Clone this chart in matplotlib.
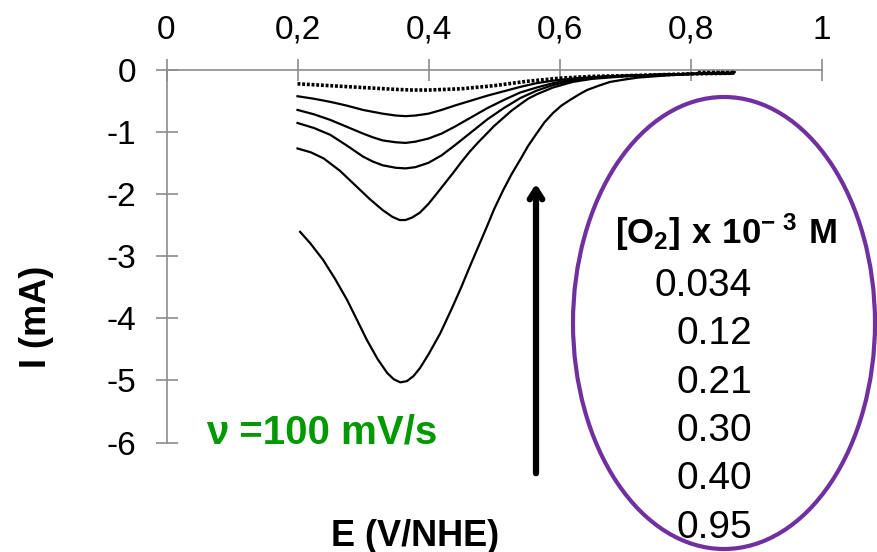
import matplotlib
matplotlib.use('Agg')
import matplotlib.pyplot as plt
from matplotlib.patches import Ellipse

plt.rcParams['font.family'] = ['Liberation Sans', 'DejaVu Sans']
plt.rcParams['axes.unicode_minus'] = False
plt.rcParams['mathtext.fontset'] = 'custom'
plt.rcParams['mathtext.rm'] = 'Liberation Sans'
plt.rcParams['mathtext.bf'] = 'Liberation Sans:bold'

# concentrations [O2] x 10^-3 M
conc_labels = ['0.034', '0.12', '0.21', '0.30', '0.40', '0.95']

# potential E (V/NHE) and current I (mA)
e_034 = [0.20, 0.25, 0.30, 0.35, 0.375, 0.40, 0.45, 0.50, 0.55, 0.60, 0.65, 0.70,
         0.75, 0.80, 0.865, 0.868, 0.81]
i_034 = [-0.23, -0.26, -0.29, -0.32, -0.33, -0.33, -0.31, -0.26, -0.19, -0.14, -0.11,
         -0.10, -0.085, -0.07, -0.06, -0.015, -0.015]

e_12 = [0.20, 0.225, 0.25, 0.275, 0.30, 0.33, 0.35, 0.365, 0.38, 0.40, 0.42, 0.44, 0.465,
        0.49, 0.515, 0.54, 0.565, 0.59, 0.615, 0.64, 0.67, 0.70, 0.75, 0.80, 0.865]
i_12 = [-0.43, -0.47, -0.52, -0.58, -0.65, -0.71, -0.74, -0.75, -0.74, -0.71, -0.65, -0.58,
        -0.50, -0.42, -0.35, -0.28, -0.22, -0.18, -0.15, -0.13, -0.11, -0.10, -0.085,
        -0.07, -0.06]

e_21 = [0.20, 0.225, 0.25, 0.275, 0.30, 0.315, 0.33, 0.35, 0.365, 0.38, 0.40, 0.42, 0.44,
        0.465, 0.49, 0.515, 0.54, 0.565, 0.59, 0.615, 0.64, 0.67, 0.70, 0.75, 0.80, 0.865]
i_21 = [-0.65, -0.72, -0.81, -0.92, -1.03, -1.09, -1.14, -1.17, -1.18, -1.16, -1.11, -1.03,
        -0.92, -0.77, -0.62, -0.49, -0.37, -0.29, -0.22, -0.17, -0.14, -0.115, -0.10,
        -0.085, -0.07, -0.06]

e_30 = [0.20, 0.225, 0.25, 0.275, 0.30, 0.315, 0.33, 0.35, 0.365, 0.38, 0.40, 0.42, 0.44,
        0.465, 0.49, 0.515, 0.54, 0.565, 0.59, 0.615, 0.64, 0.67, 0.70, 0.75, 0.80, 0.865]
i_30 = [-0.86, -0.94, -1.05, -1.22, -1.40, -1.48, -1.54, -1.58, -1.59, -1.57, -1.50, -1.38,
        -1.22, -1.01, -0.80, -0.62, -0.46, -0.34, -0.25, -0.19, -0.15, -0.12, -0.10,
        -0.085, -0.07, -0.06]

e_40 = [0.20, 0.22, 0.24, 0.265, 0.29, 0.31, 0.33, 0.345, 0.356, 0.365, 0.375, 0.387,
        0.40, 0.413, 0.425, 0.437, 0.45, 0.463, 0.476, 0.489, 0.50, 0.514, 0.527, 0.54,
        0.552, 0.565, 0.59, 0.62, 0.65, 0.70, 0.75, 0.80, 0.865]
i_40 = [-1.27, -1.33, -1.43, -1.63, -1.88, -2.08, -2.26, -2.37, -2.42, -2.42, -2.38, -2.30,
        -2.16, -1.99, -1.83, -1.67, -1.49, -1.32, -1.17, -1.03, -0.91, -0.78, -0.66, -0.56,
        -0.47, -0.40, -0.29, -0.20, -0.15, -0.11, -0.085, -0.07, -0.06]

e_95 = [0.204, 0.22, 0.239, 0.257, 0.276, 0.291, 0.306, 0.322, 0.337, 0.347, 0.357, 0.367,
        0.377, 0.387, 0.40, 0.418, 0.437, 0.45, 0.463, 0.476, 0.489, 0.50, 0.514, 0.527,
        0.54, 0.552, 0.565, 0.577, 0.59, 0.603, 0.616, 0.63, 0.642, 0.66, 0.677, 0.70,
        0.72, 0.77, 0.82, 0.865]
i_95 = [-2.61, -2.80, -3.06, -3.36, -3.71, -4.03, -4.35, -4.65, -4.88, -4.98, -5.03, -5.01,
        -4.93, -4.80, -4.58, -4.24, -3.81, -3.50, -3.17, -2.85, -2.53, -2.25, -1.94, -1.68,
        -1.45, -1.23, -1.03, -0.85, -0.70, -0.58, -0.49, -0.40, -0.33, -0.26, -0.20, -0.16,
        -0.13, -0.09, -0.07, -0.06]

x_ticks = [0, 0.2, 0.4, 0.6, 0.8, 1]
x_ticklabels = ['0', '0,2', '0,4', '0,6', '0,8', '1']
y_ticks = [0, -1, -2, -3, -4, -5, -6]
y_ticklabels = ['0', '-1', '-2', '-3', '-4', '-5', '-6']

W, H = 877, 552
fig = plt.figure(figsize=(W / 100, H / 100), dpi=100)
ax = fig.add_axes([166.5 / W, 1 - 442.7 / H, 655 / W, 373.2 / H])

ax.plot(e_034, i_034, color='black', lw=2.6, ls=(0, (0.8, 0.5)))
for e, i in [(e_12, i_12), (e_21, i_21), (e_30, i_30), (e_40, i_40), (e_95, i_95)]:
    ax.plot(e, i, color='black', lw=1.6)

ax.set_xlim(0, 1)
ax.set_ylim(-6, 0)
ax.spines['right'].set_visible(False)
ax.spines['bottom'].set_visible(False)
for s in ['top', 'left']:
    ax.spines[s].set_color('#8c8c8c')
    ax.spines[s].set_linewidth(1.2)

ax.xaxis.tick_top()
ax.set_xticks(x_ticks)
ax.set_xticklabels(x_ticklabels)
ax.set_yticks(y_ticks)
ax.set_yticklabels(y_ticklabels)
ax.tick_params(direction='inout', length=16, width=1.2, color='#8c8c8c', labelsize=24)
ax.tick_params(axis='x', pad=9)
ax.tick_params(axis='y', pad=14)

fig.text(37 / W, 1 - 317 / H, 'I (mA)', rotation=90, fontsize=26, fontweight='bold',
         ha='center', va='center')
fig.text(415 / W, 1 - 536 / H, 'E (V/NHE)', fontsize=26, fontweight='bold',
         ha='center', va='center')
fig.text(206 / W, 1 - 433 / H, 'ν =100 mV/s', fontsize=29, fontweight='bold',
         color='#009a00', ha='left', va='center')

# arrow showing increasing O2 concentration
fig.add_artist(plt.Annotation('', xy=(536 / W, 1 - 181 / H), xytext=(536 / W, 1 - 476 / H),
                              xycoords='figure fraction',
                              arrowprops=dict(arrowstyle='->,head_length=0.7,head_width=0.45',
                                              lw=4.5, color='black')))

fig.add_artist(Ellipse((724 / W, 1 - 323 / H), 302 / W, 452 / H, transform=fig.transFigure,
                       fill=False, ec='#7030a0', lw=3))

fig.text(726 / W, 1 - 232 / H, r'$\mathbf{[O_2]\ x\ 10^{-\ 3}\ M}$', fontsize=25,
         ha='center', va='center')
for k, lab in enumerate(conc_labels):
    fig.text(752 / W, 1 - (286 + 48.3 * k) / H, lab, fontsize=28, ha='right', va='center')

fig.savefig('out.png', dpi=100)
